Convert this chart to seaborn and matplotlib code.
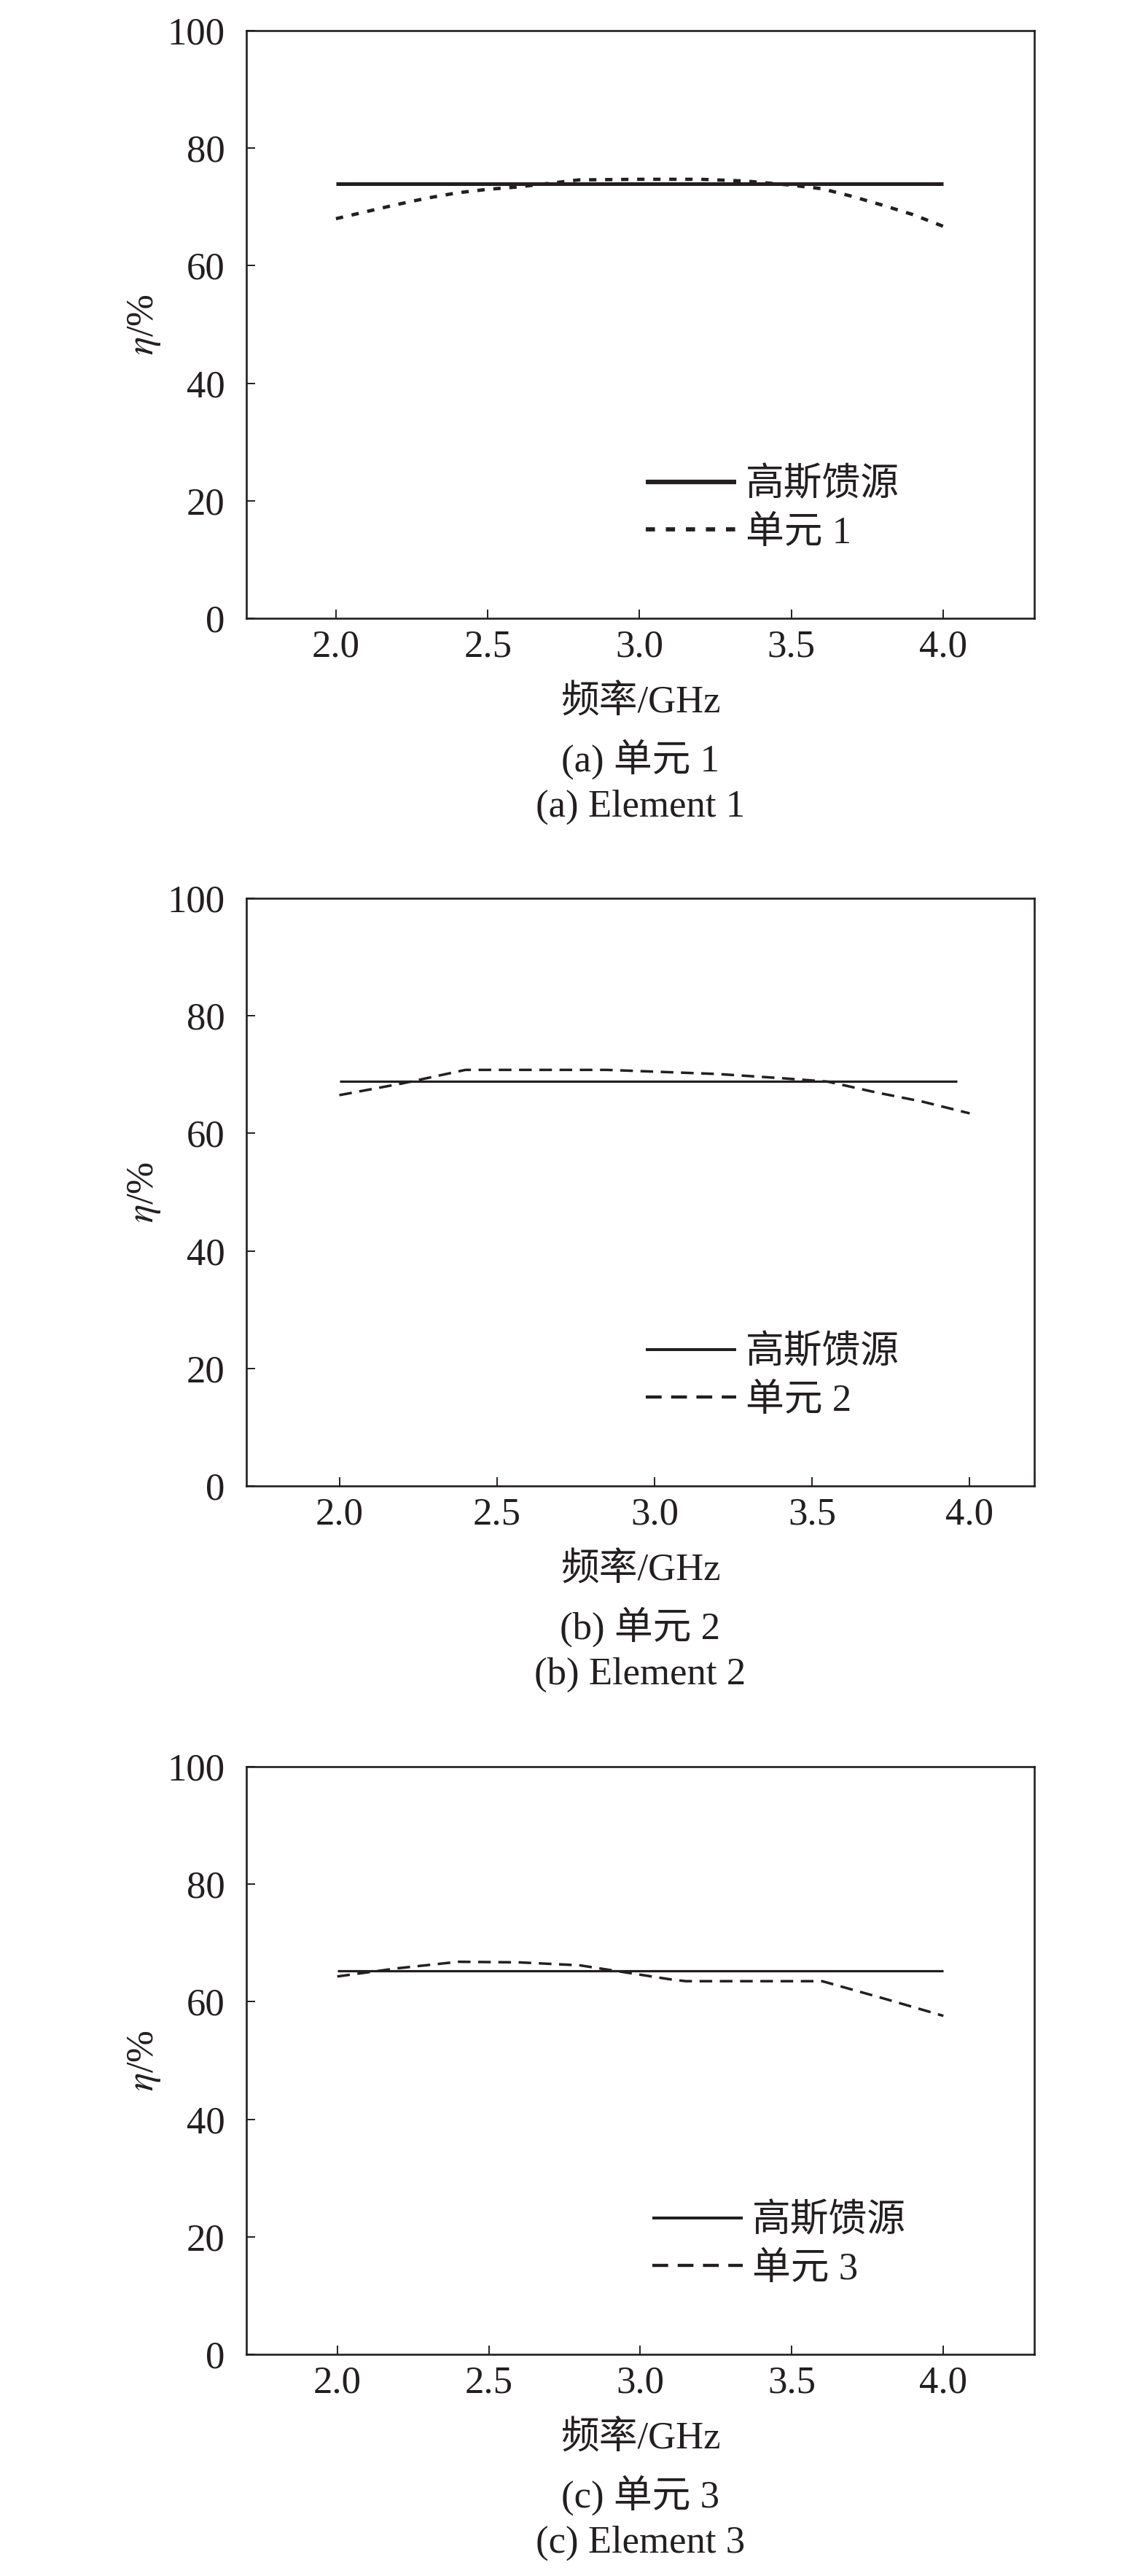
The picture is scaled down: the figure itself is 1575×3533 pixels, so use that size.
import matplotlib.pyplot as plt
import seaborn as sns

INK = "#231f20"

# values (frequency in GHz, efficiency in %)
gauss_freq_1 = [2.0, 4.0]
gauss_eta_1 = [74.0, 74.0]
elem_freq_1 = [2.0, 2.1, 2.2, 2.3, 2.4, 2.5, 2.6, 2.7, 2.8, 3.0, 3.2, 3.35, 3.5, 3.6, 3.7, 3.8, 3.9, 4.0]
elem_eta_1 = [68.0, 69.2, 70.4, 71.5, 72.4, 73.0, 73.4, 74.0, 74.6, 74.7, 74.7, 74.4, 73.7, 73.1, 71.8, 70.3, 68.7, 66.7]

gauss_freq_2 = [2.0, 3.96]
gauss_eta_2 = [68.9, 68.9]
elem_freq_2 = [2.0, 2.2, 2.4, 2.6, 2.85, 3.0, 3.2, 3.4, 3.55, 3.7, 3.85, 4.0]
elem_eta_2 = [66.5, 68.5, 70.8, 70.8, 70.8, 70.5, 70.1, 69.4, 68.8, 67.0, 65.4, 63.4]

gauss_freq_3 = [2.0, 4.0]
gauss_eta_3 = [65.2, 65.2]
elem_freq_3 = [2.0, 2.2, 2.4, 2.6, 2.8, 3.0, 3.1, 3.15, 3.4, 3.6, 3.8, 4.0]
elem_eta_3 = [64.3, 65.7, 66.8, 66.7, 66.2, 64.6, 63.8, 63.5, 63.5, 63.5, 60.6, 57.6]

panel_tags = ["(a)", "(b)", "(c)"]
x_ticks = [2.0, 2.5, 3.0, 3.5, 4.0]
y_ticks = [0, 20, 40, 60, 80, 100]

sns.set_theme(style="ticks")
plt.rcParams["font.family"] = ["Liberation Serif", "Noto Sans CJK SC"]
plt.rcParams["mathtext.fontset"] = "stix"
plt.rcParams["font.size"] = 38
plt.rcParams["text.color"] = INK
plt.rcParams["axes.edgecolor"] = INK
plt.rcParams["axes.labelcolor"] = INK
plt.rcParams["xtick.color"] = INK
plt.rcParams["ytick.color"] = INK
plt.rcParams["axes.linewidth"] = 1.9


def plot_panel(ax, gauss_freq, gauss_eta, elem_freq, elem_eta, idx, style):
    sns.lineplot(x=gauss_freq, y=gauss_eta, ax=ax, color=INK,
                 linewidth=style["solid_lw"], label="高斯馈源", solid_capstyle="butt")
    sns.lineplot(x=elem_freq, y=elem_eta, ax=ax, color=INK,
                 linewidth=style["dash_lw"], label=f"单元 {idx}")
    dashed = ax.lines[-1]
    dashed.set_dashes(style["dashes"])
    dashed.set_dash_capstyle("butt")

    ax.set_xlim(*style["xlim"])
    ax.set_ylim(0, 100)
    ax.set_xticks(x_ticks)
    ax.set_xticklabels([f"{t:.1f}" for t in x_ticks])
    ax.set_yticks(y_ticks)
    ax.tick_params(axis="both", direction="in", length=8.6, width=1.4,
                   labelsize=38, top=False, right=False)
    ax.tick_params(axis="x", pad=11)
    ax.tick_params(axis="y", pad=21)

    ax.set_ylabel(r"$\eta$/%", fontsize=38, va="center", ha="center")
    ax.yaxis.set_label_coords(-0.1295, 0.5)
    ax.set_xlabel("频率/GHz", fontsize=38, va="center")
    ax.xaxis.set_label_coords(0.5, -116 / 806)

    tag = panel_tags[idx - 1]
    ax.text(0.5, -193 / 806, f"{tag} 单元 {idx}", transform=ax.transAxes,
            ha="center", va="center", fontsize=38)
    ax.text(0.5, -259 / 806, f"{tag} Element {idx}", transform=ax.transAxes,
            ha="center", va="center", fontsize=38)

    leg = ax.legend(loc="center left", bbox_to_anchor=(style["leg_x"], 0.186),
                    frameon=False, fontsize=38, handlelength=2.35, handletextpad=0.25,
                    borderpad=0, borderaxespad=0, labelspacing=0.33)
    for handle in leg.get_lines():
        handle.set_linewidth(handle.get_linewidth() * 1.25)


fig = plt.figure(figsize=(15.75, 35.33), dpi=100)
fig.patch.set_facecolor("white")

panels = [
    (gauss_freq_1, gauss_eta_1, elem_freq_1, elem_eta_1),
    (gauss_freq_2, gauss_eta_2, elem_freq_2, elem_eta_2),
    (gauss_freq_3, gauss_eta_3, elem_freq_3, elem_eta_3),
]
styles = [
    {"solid_lw": 3.6, "dash_lw": 3.3, "dashes": (2.2, 2.6), "xlim": (1.705, 4.30), "leg_x": 0.507},
    {"solid_lw": 2.3, "dash_lw": 2.5, "dashes": (5.0, 3.0), "xlim": (1.705, 4.205), "leg_x": 0.507},
    {"solid_lw": 2.3, "dash_lw": 2.5, "dashes": (5.0, 3.0), "xlim": (1.70, 4.30), "leg_x": 0.515},
]
bottoms = [1 - 848 / 3533, 1 - 2038 / 3533, 1 - 3229 / 3533]

for i, (data, style, bottom) in enumerate(zip(panels, styles, bottoms), start=1):
    ax = fig.add_axes([338 / 1575, bottom, 1081 / 1575, 806 / 3533])
    ax.set_facecolor("white")
    plot_panel(ax, *data, i, style)

fig.savefig("out.png", dpi=100)
